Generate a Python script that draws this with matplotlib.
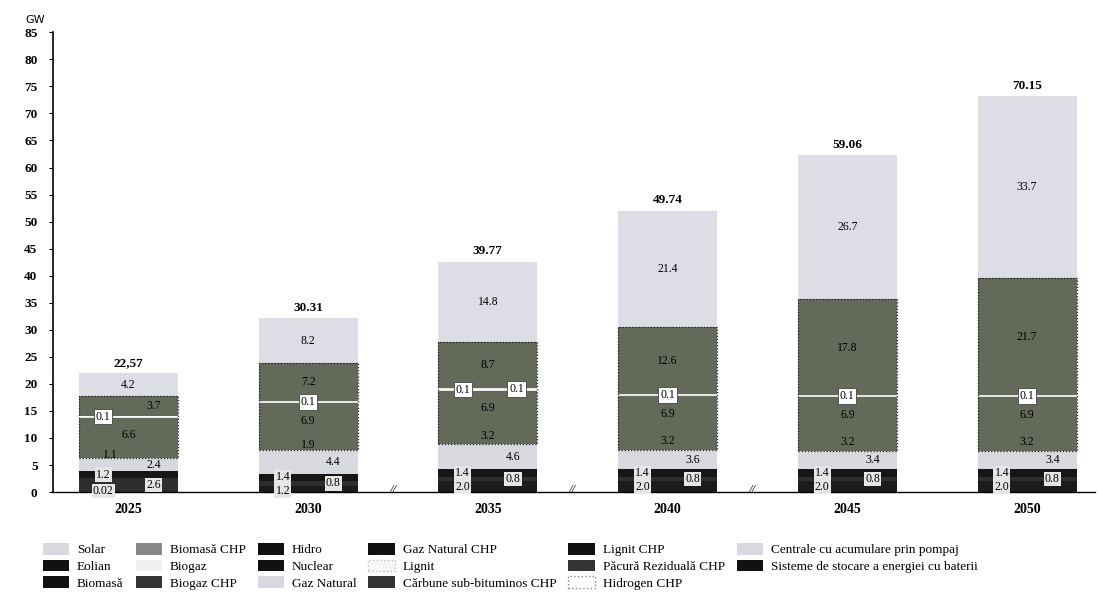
import matplotlib
matplotlib.use("Agg")
import matplotlib.pyplot as plt
from matplotlib.patches import Patch
import numpy as np

years = ["2025", "2030", "2035", "2040", "2045", "2050"]
totals = ["22,57", "30.31", "39.77", "49.74", "59.06", "70.15"]

# stacked series, bottom to top (GW)
baterii = [0.02, 1.2, 2.0, 2.0, 2.0, 2.0]
lignit = [2.6, 0.8, 0.8, 0.8, 0.8, 0.8]
nuclear = [1.2, 1.4, 1.4, 1.4, 1.4, 1.4]
gaz_natural = [2.4, 4.4, 4.6, 3.6, 3.4, 3.4]
gaz_natural_chp = [1.1, 1.9, 3.2, 3.2, 3.2, 3.2]
hidro = [6.6, 6.9, 6.9, 6.9, 6.9, 6.9]
biogaz = [0.1, 0.1, 0.1, 0.1, 0.1, 0.1]
hidrogen_chp = [0.0, 0.0, 0.1, 0.0, 0.0, 0.0]
eolian = [3.7, 7.2, 8.7, 12.6, 17.8, 21.7]
solar = [4.2, 8.2, 14.8, 21.4, 26.7, 33.7]

legend_labels = [
    "Solar", "Eolian", "Biomasă",
    "Biomasă CHP", "Biogaz", "Biogaz CHP",
    "Hidro", "Nuclear", "Gaz Natural",
    "Gaz Natural CHP", "Lignit", "Cărbune sub-bituminos CHP",
    "Lignit CHP", "Păcură Reziduală CHP", "Hidrogen CHP",
    "Centrale cu acumulare prin pompaj", "Sisteme de stocare a energiei cu baterii",
]

SERIF = ["Liberation Serif", "DejaVu Serif"]
OLIVE = "#646a59"

series = [
    # key, values, color, hatch, label x-offset, box
    ("baterii", baterii, "#1c1c1c", None, -0.14, "light"),
    ("lignit", lignit, "#2e2e2e", None, 0.14, "light"),
    ("nuclear", nuclear, "#161616", "////", -0.14, "light"),
    ("gaz", gaz_natural, "#d8d9de", None, 0.14, None),
    ("gazchp", gaz_natural_chp, OLIVE, None, 0.0, None),
    ("hidro", hidro, OLIVE, None, 0.0, None),
    ("biogaz", biogaz, "#f2f2f2", None, 0.0, "white"),
    ("hidrogen", hidrogen_chp, "#f2f2f2", None, 0.16, "white"),
    ("eolian", eolian, OLIVE, None, 0.0, None),
    ("solar", solar, "#dcdde5", None, 0.0, None),
]
# label position tweaks (style only)
dx_override = {("eolian", 0): 0.14, ("biogaz", 0): -0.14, ("biogaz", 2): -0.14,
               ("gazchp", 0): -0.1}

fig = plt.figure(figsize=(11.02, 6.09), dpi=100)
ax = fig.add_axes([0.048, 0.192, 0.946, 0.755])

x = np.arange(len(years))
width = 0.55
bottom = np.zeros(len(years))
plt.rcParams["hatch.color"] = "#555555"
plt.rcParams["hatch.linewidth"] = 0.6

olive_lo = None
olive_hi = None
for key, vals, color, hatch, dx, box in series:
    vals = np.array(vals, dtype=float)
    ax.bar(x, vals, width, bottom=bottom, color=color, hatch=hatch,
           edgecolor="none", linewidth=0, zorder=2)
    if key == "gazchp":
        olive_lo = bottom.copy()
    if key == "eolian":
        olive_hi = bottom + vals
    if box == "white":
        for i, v in enumerate(vals):
            if v > 0:
                ax.plot([x[i] - width / 2, x[i] + width / 2],
                        [bottom[i] + v / 2] * 2, color="white", lw=1.2, zorder=3)
    for i, v in enumerate(vals):
        if v <= 0:
            continue
        ymid = bottom[i] + v / 2
        txt = f"{v:.2f}" if v < 0.1 else f"{v:.1f}"
        if v < 1.3 and box == "light" and bottom[i] == 0:
            ymid = 0.2
        kw = {}
        if box == "white":
            kw["bbox"] = dict(boxstyle="square,pad=0.15", fc="white", ec="#444444", lw=0.6)
        elif box == "light":
            kw["bbox"] = dict(boxstyle="square,pad=0.1", fc="#e6e6e6", ec="none")
        ddx = dx_override.get((key, i), dx)
        ax.text(x[i] + ddx, ymid, txt, ha="center", va="center", fontsize=8.5,
                family=SERIF, color="black", zorder=5, **kw)
    bottom = bottom + vals

# dotted outline around olive block
ax.bar(x, olive_hi - olive_lo, width, bottom=olive_lo, fill=False,
       edgecolor="#222222", linestyle=(0, (1, 1.5)), linewidth=0.9, zorder=4)

for i in range(len(years)):
    ax.text(x[i], bottom[i] + 0.8, totals[i], ha="center", va="bottom",
            fontsize=9.5, fontweight="bold", family=SERIF, zorder=5)

# axis break marks
for bx in [1.47, 2.47, 3.47]:
    ax.text(bx, 0.3, "//", ha="center", va="center", fontsize=9,
            style="italic", family=SERIF, zorder=6)

ax.set_xlim(-0.42, 5.38)
ax.set_ylim(0, 85)
ax.set_yticks(np.arange(0, 86, 5))
ax.set_xticks(x)
ax.set_xticklabels(years)
for lab in ax.get_xticklabels():
    lab.set_fontfamily(SERIF)
    lab.set_fontweight("bold")
    lab.set_fontsize(10)
for lab in ax.get_yticklabels():
    lab.set_fontfamily(SERIF)
    lab.set_fontweight("bold")
    lab.set_fontsize(9.5)
ax.tick_params(axis="x", length=0, pad=8)
ax.tick_params(axis="y", length=3, width=0.8, pad=8)
ax.spines["top"].set_visible(False)
ax.spines["right"].set_visible(False)
ax.spines["left"].set_linewidth(1.2)
ax.spines["bottom"].set_linewidth(1.0)

fig.text(0.023, 0.975, "GW", fontsize=8, family="DejaVu Sans", va="top")

legend_styles = [
    ("#d8d9e0", None, "none"), ("#111111", None, "none"), ("#111111", None, "none"),
    ("#888888", "xxxx", "none"), ("#f0f0f0", None, "none"), ("#333333", "xxxx", "none"),
    ("#111111", None, "none"), ("#111111", None, "none"), ("#d8d9e0", None, "none"),
    ("#111111", None, "none"), ("#f6f6f6", None, "#bbbbbb"), ("#333333", "xxxx", "none"),
    ("#111111", None, "none"), ("#333333", "---", "none"), ("#ffffff", None, "#888888"),
    ("#d8d9e0", None, "none"), ("#111111", None, "none"),
]
handles = []
for lab, (fc, hatch, ec) in zip(legend_labels, legend_styles):
    handles.append(Patch(facecolor=fc, hatch=hatch, edgecolor=ec,
                         linestyle=":" if ec != "none" else "-", label=lab))
fig.legend(handles=handles, loc="upper left", bbox_to_anchor=(0.028, 0.128),
           ncol=6, frameon=False, prop={"family": SERIF, "size": 9.5},
           handlelength=2.0, handleheight=1.0, columnspacing=0.9,
           labelspacing=0.25, handletextpad=0.6)

fig.savefig("out.png", dpi=100)
